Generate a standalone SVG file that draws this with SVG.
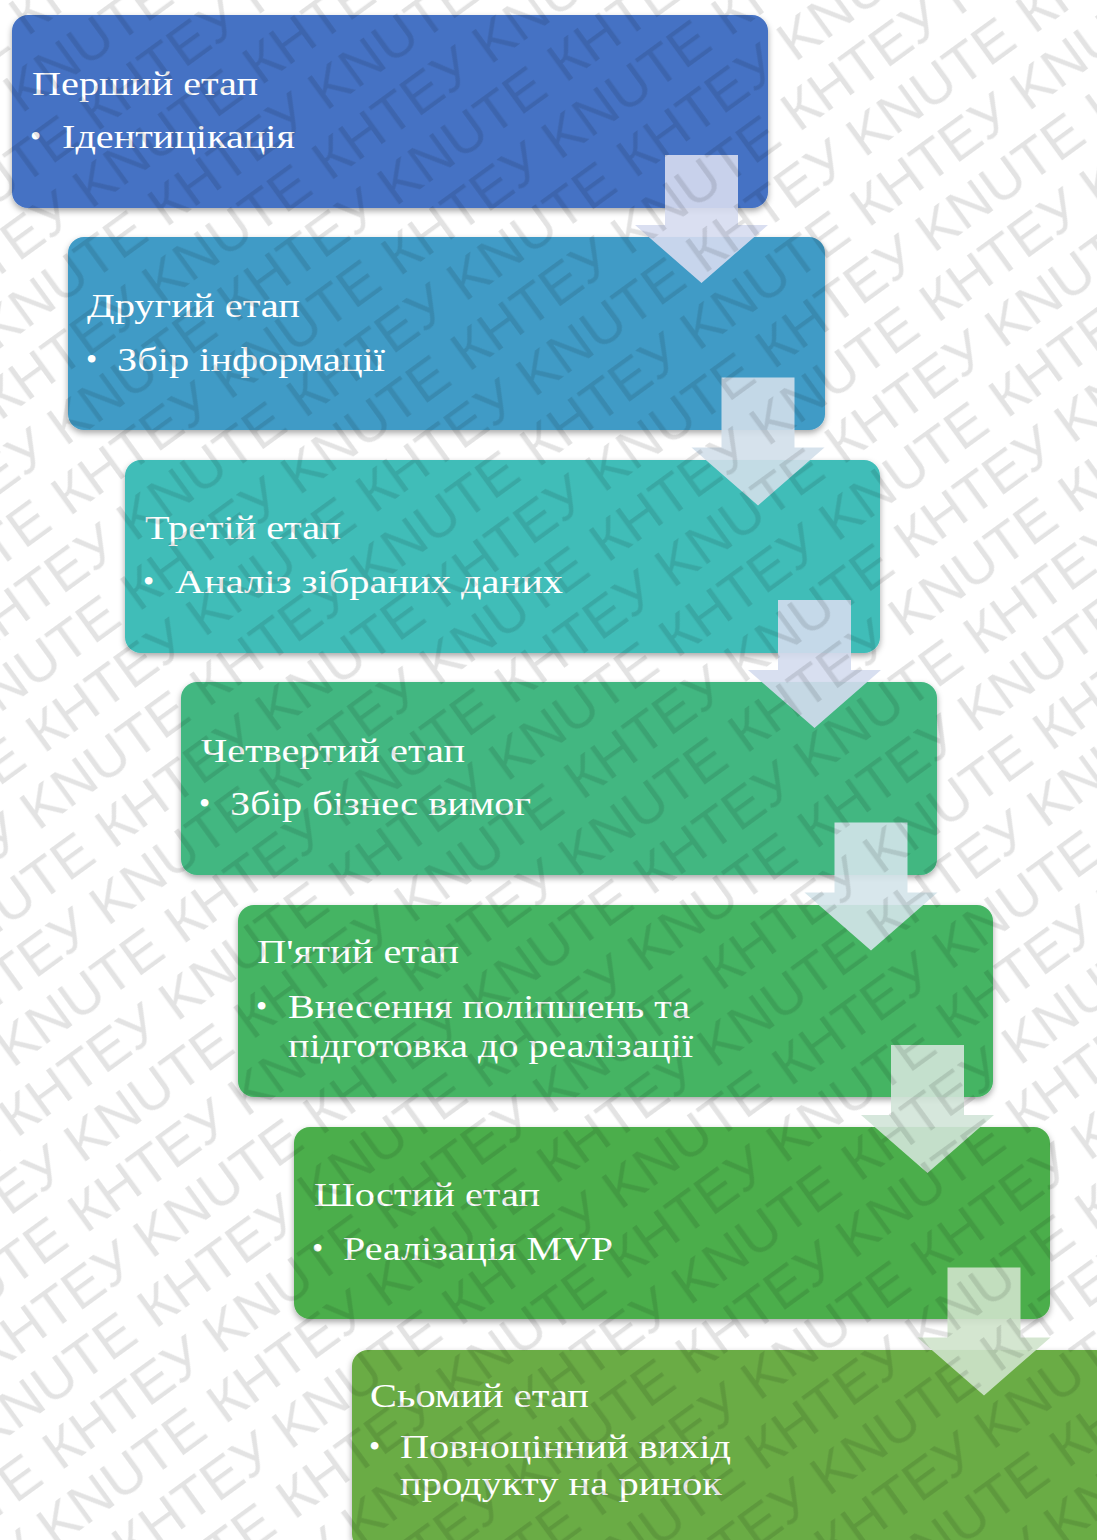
<svg xmlns="http://www.w3.org/2000/svg" width="1097" height="1540" viewBox="0 0 1097 1540">
<style>
.box{filter:url(#sh);}
.t{font-family:"Liberation Serif","Times New Roman",serif;font-size:34px;fill:#ffffff;}
.b{font-family:"Liberation Serif","Times New Roman",serif;font-size:32px;fill:#ffffff;}
.arr{fill-opacity:0.9;}
.wm{font-family:"Liberation Sans",Arial,sans-serif;font-size:56px;fill:#000000;fill-opacity:0.11;}
</style>
<defs>
<filter id="sh" x="-5%" y="-10%" width="110%" height="125%">
<feDropShadow dx="0" dy="3" stdDeviation="3" flood-color="#000" flood-opacity="0.35"/>
</filter>
<pattern id="wmp" patternUnits="userSpaceOnUse" width="408" height="118" patternTransform="rotate(-36)">
<text class="wm" x="0" y="46" textLength="390" lengthAdjust="spacingAndGlyphs">КНТЕУ KNUTE</text>
<text class="wm" x="160" y="105" textLength="390" lengthAdjust="spacingAndGlyphs">КНТЕУ KNUTE</text>
<text class="wm" x="-248" y="105" textLength="390" lengthAdjust="spacingAndGlyphs">КНТЕУ KNUTE</text>
</pattern>
</defs>
<rect width="1097" height="1540" fill="#ffffff"/>

<g id="node1">
<rect class="box" x="12" y="15" width="756" height="193" rx="16" fill="#4472C4"/>
<text class="t" x="32" y="95" textLength="226" lengthAdjust="spacingAndGlyphs">Перший етап</text>
<text class="b" x="30" y="147">•</text>
<text class="t" x="62" y="148" textLength="233" lengthAdjust="spacingAndGlyphs">Ідентицікація</text>
</g>
<g id="node2">
<rect class="box" x="68" y="237" width="757" height="193" rx="16" fill="#3F9BC6"/>
<text class="t" x="87" y="317" textLength="213" lengthAdjust="spacingAndGlyphs">Другий етап</text>
<text class="b" x="86" y="370">•</text>
<text class="t" x="117" y="371" textLength="268" lengthAdjust="spacingAndGlyphs">Збір інформації</text>
</g>
<g id="node3">
<rect class="box" x="125" y="460" width="755" height="193" rx="16" fill="#3FBDB8"/>
<text class="t" x="145" y="539" textLength="196" lengthAdjust="spacingAndGlyphs">Третій етап</text>
<text class="b" x="143" y="592">•</text>
<text class="t" x="175" y="593" textLength="388" lengthAdjust="spacingAndGlyphs">Аналіз зібраних даних</text>
</g>
<g id="node4">
<rect class="box" x="181" y="682" width="756" height="193" rx="16" fill="#42B781"/>
<text class="t" x="201" y="762" textLength="264" lengthAdjust="spacingAndGlyphs">Четвертий етап</text>
<text class="b" x="199" y="814">•</text>
<text class="t" x="230" y="815" textLength="301" lengthAdjust="spacingAndGlyphs">Збір бізнес вимог</text>
</g>
<g id="node5">
<rect class="box" x="238" y="905" width="755" height="192" rx="16" fill="#44B464"/>
<text class="t" x="257" y="963" textLength="202" lengthAdjust="spacingAndGlyphs">П'ятий етап</text>
<text class="b" x="256" y="1017">•</text>
<text class="t" x="288" y="1018" textLength="402" lengthAdjust="spacingAndGlyphs">Внесення поліпшень та</text>
<text class="t" x="288" y="1057" textLength="405" lengthAdjust="spacingAndGlyphs">підготовка до реалізації</text>
</g>
<g id="node6">
<rect class="box" x="294" y="1127" width="756" height="192" rx="16" fill="#4BAE4C"/>
<text class="t" x="314" y="1206" textLength="226" lengthAdjust="spacingAndGlyphs">Шостий етап</text>
<text class="b" x="312" y="1259">•</text>
<text class="t" x="343" y="1260" textLength="270" lengthAdjust="spacingAndGlyphs">Реалізація MVP</text>
</g>
<g id="node7">
<rect class="box" x="352" y="1350" width="760" height="200" rx="16" fill="#6BAC45"/>
<text class="t" x="370" y="1407" textLength="219" lengthAdjust="spacingAndGlyphs">Сьомий етап</text>
<text class="b" x="369" y="1457">•</text>
<text class="t" x="400" y="1458" textLength="331" lengthAdjust="spacingAndGlyphs">Повноцінний вихід</text>
<text class="t" x="400" y="1495" textLength="322" lengthAdjust="spacingAndGlyphs">продукту на ринок</text>
</g>

<g id="connectors">
<path class="arr" fill="#D6DCF0" d="M665 155 H738 V225 H768 L701.5 283 L635 225 H665 Z"/>
<path class="arr" fill="#D2DFEA" d="M721.5 377.5 H794.5 V447.5 H824.5 L758 505.5 L691.5 447.5 H721.5 Z"/>
<path class="arr" fill="#D4DBEE" d="M778 600 H851 V670 H881 L814.5 728 L748 670 H778 Z"/>
<path class="arr" fill="#D4E4EA" d="M834.5 822.5 H907.5 V892.5 H937.5 L871 950.5 L804.5 892.5 H834.5 Z"/>
<path class="arr" fill="#D2E4D8" d="M891 1045 H964 V1115 H994 L927.5 1173 L861 1115 H891 Z"/>
<path class="arr" fill="#CFE3CB" d="M947.5 1267.5 H1020.5 V1337.5 H1050.5 L984 1395.5 L917.5 1337.5 H947.5 Z"/>
</g>

<rect id="watermark" width="1097" height="1540" fill="url(#wmp)"/>
</svg>
